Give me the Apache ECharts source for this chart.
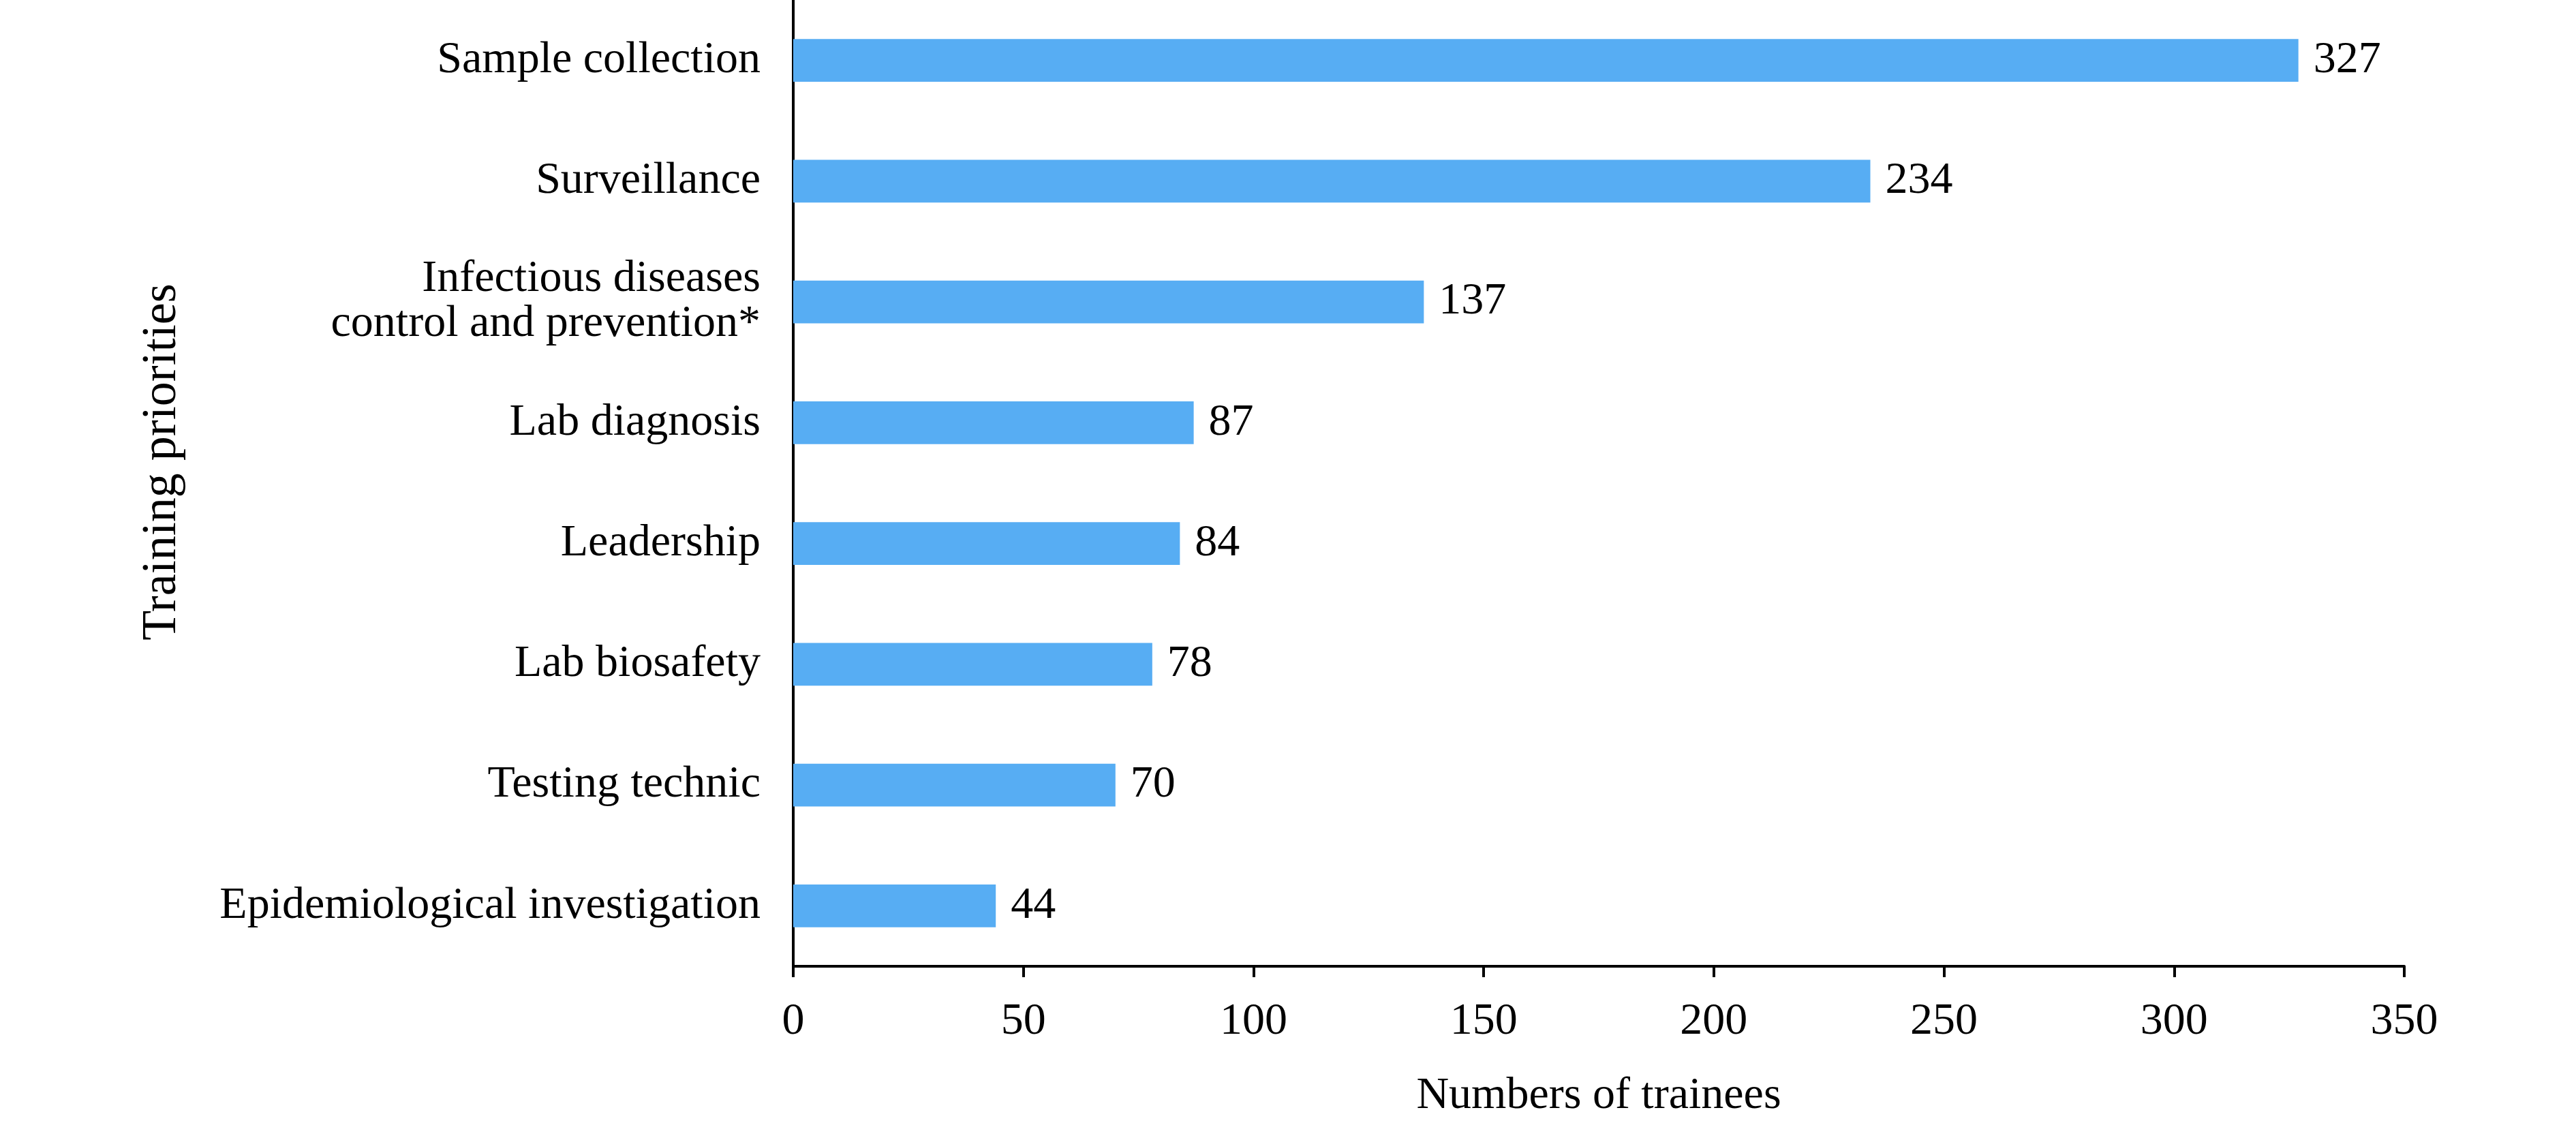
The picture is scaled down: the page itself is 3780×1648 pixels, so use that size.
<!DOCTYPE html>
<html>
<head>
<meta charset="utf-8">
<script src="https://cdn.jsdelivr.net/npm/echarts@6/dist/echarts.min.js"></script>
<style>
html,body{margin:0;padding:0;background:#fff;}
#chart{width:3780px;height:1648px;}
</style>
</head>
<body>
<div id="chart"></div>
<script>
const categories = [
  "Sample collection",
  "Surveillance",
  "Infectious diseases\ncontrol and prevention*",
  "Lab diagnosis",
  "Leadership",
  "Lab biosafety",
  "Testing technic",
  "Epidemiological investigation"
];
const trainees = [327, 234, 137, 87, 84, 78, 70, 44];
const xTicks = { min: 0, max: 350, interval: 50 };

const FONT = "'Liberation Serif', 'Times New Roman', serif";
const chart = echarts.init(document.getElementById('chart'));
chart.setOption({
  backgroundColor: '#ffffff',
  animation: false,
  grid: { left: 1164, right: 252, top: 0, bottom: 230, containLabel: false },
  xAxis: {
    type: 'value',
    min: xTicks.min, max: xTicks.max, interval: xTicks.interval,
    name: 'Numbers of trainees',
    nameLocation: 'middle',
    nameGap: 158,
    nameTextStyle: { fontFamily: FONT, fontSize: 66, color: '#000' },
    axisLine: { show: true, lineStyle: { color: '#000', width: 4 } },
    axisTick: { show: true, length: 16, lineStyle: { color: '#000', width: 4 } },
    axisLabel: { fontFamily: FONT, fontSize: 66, color: '#000', margin: 49 },
    splitLine: { show: false }
  },
  yAxis: {
    type: 'category',
    data: categories,
    inverse: true,
    name: 'Training priorities',
    nameLocation: 'middle',
    nameGap: 890,
    nameRotate: 90,
    nameTextStyle: { fontFamily: FONT, fontSize: 72, color: '#000', padding: [0, 0, 0, 62] },
    axisLine: { show: true, lineStyle: { color: '#000', width: 4 } },
    axisTick: { show: false },
    axisLabel: { fontFamily: FONT, fontSize: 66, color: '#000', margin: 48, lineHeight: 66, align: 'right' },
    splitLine: { show: false }
  },
  series: [{
    type: 'bar',
    data: trainees,
    barWidth: '35.5%',
    itemStyle: { color: '#57ADF3' },
    label: {
      show: true, position: 'right', distance: 22,
      fontFamily: FONT, fontSize: 66, color: '#000'
    }
  }]
});
</script>
</body>
</html>
